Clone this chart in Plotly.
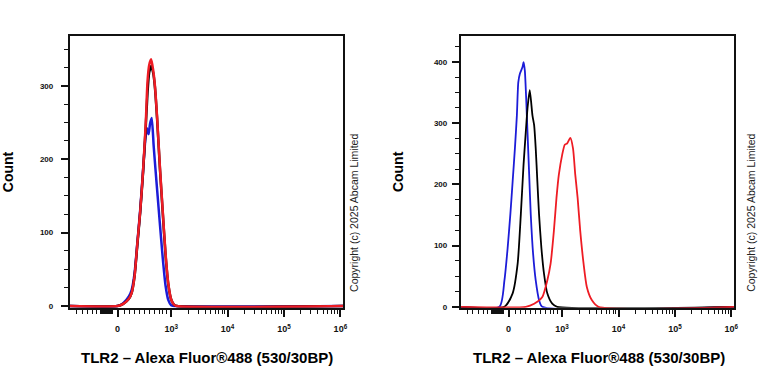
import numpy as np
import plotly.graph_objects as go

# ---- axis labels (biexponential display: 10^k drawn at k, 0 drawn at 2.05) ----
x_tick_vals = [2.05, 3, 4, 5, 6]
x_tick_text = ["0", "10<sup>3</sup>", "10<sup>4</sup>", "10<sup>5</sup>", "10<sup>6</sup>"]
x_title = "TLR2 – Alexa Fluor®488 (530/30BP)"
y_title = "Count"
copyright_text = "Copyright (c) 2025 Abcam Limited"

# ---- left panel histograms (display position, count) ----
left_blue_x = [1.2, 2.05, 2.15, 2.25, 2.30, 2.35, 2.40, 2.45, 2.50, 2.54, 2.57, 2.60, 2.625,
               2.655, 2.69, 2.72, 2.76, 2.80, 2.85, 2.90, 2.95, 3.00, 3.05, 6.05]
left_blue_y = [0, 0, 4, 13, 22, 44, 86, 130, 183, 225, 242, 234, 248,
               256, 218, 188, 150, 112, 66, 28, 8, 1, 0, 0]

left_black_x = [1.2, 2.05, 2.15, 2.25, 2.30, 2.35, 2.40, 2.45, 2.50, 2.55, 2.58, 2.61, 2.645,
                2.68, 2.71, 2.75, 2.80, 2.85, 2.90, 2.95, 3.00, 3.05, 3.10, 6.05]
left_black_y = [0, 0, 3, 10, 18, 40, 83, 127, 180, 245, 290, 318, 327,
                318, 300, 256, 188, 128, 70, 29, 9, 2, 0, 0]

left_red_x = [1.2, 2.05, 2.15, 2.25, 2.30, 2.35, 2.40, 2.45, 2.50, 2.55, 2.58, 2.61, 2.645,
              2.68, 2.71, 2.75, 2.80, 2.85, 2.90, 2.95, 3.00, 3.05, 3.10, 6.05]
left_red_y = [0, 0, 3, 10, 18, 40, 85, 128, 182, 250, 305, 328, 336,
              322, 302, 258, 190, 130, 72, 30, 9, 2, 0, 0]

# ---- right panel histograms ----
right_blue_x = [1.2, 1.889, 1.977, 2.035, 2.082, 2.123, 2.163, 2.198, 2.223, 2.251, 2.298,
                2.316, 2.339, 2.363, 2.386, 2.416, 2.444, 2.486, 2.532, 2.591, 2.649, 6.05]
right_blue_y = [0, 0, 43, 97, 151, 205, 259, 313, 367, 381, 392,
                400, 386, 340, 286, 216, 151, 86, 43, 11, 0, 0]

right_black_x = [1.2, 1.977, 2.123, 2.211, 2.268, 2.316, 2.356, 2.386, 2.426, 2.474, 2.504,
                 2.532, 2.561, 2.591, 2.632, 2.679, 2.737, 2.825, 2.912, 6.05]
right_black_y = [0, 0, 22, 70, 151, 232, 286, 324, 354, 313, 297,
                 259, 205, 151, 97, 54, 22, 5, 0, 0]

right_red_x = [1.2, 2.356, 2.504, 2.649, 2.737, 2.795, 2.854, 2.90, 2.942, 3.0, 3.047,
               3.088, 3.146, 3.193, 3.233, 3.275, 3.321, 3.381, 3.439, 3.526, 3.644, 6.05]
right_red_y = [0, 0, 5, 16, 43, 70, 124, 178, 216, 248, 265,
               267, 276, 259, 216, 178, 124, 70, 32, 11, 0, 0]

BLUE = "#1c1cd8"
BLACK = "#000000"
RED = "#ee1c24"

fig = go.Figure()
panels = [
    ("x", "y", 2.5, left_blue_x, left_blue_y, left_black_x, left_black_y, left_red_x, left_red_y),
    ("x2", "y2", 1.8, right_blue_x, right_blue_y, right_black_x, right_black_y, right_red_x, right_red_y),
]
for xa, ya, lw, bx, by, kx, ky, rx, ry in panels:
    for xs, ys, col in ((bx, by, BLUE), (kx, ky, BLACK), (rx, ry, RED)):
        fig.add_trace(go.Scatter(x=xs, y=ys, mode="lines", xaxis=xa, yaxis=ya,
                                 line=dict(color=col, width=lw, shape="spline", smoothing=0.6),
                                 showlegend=False, hoverinfo="skip"))

# minor tick positions on the display axis
neg_ticks = [1.33, 1.42, 1.51, 1.60, 1.68] + list(np.round(np.arange(1.74, 1.97, 0.012), 3))
low_ticks = [2.175, 2.26, 2.35, 2.44, 2.53, 2.61, 2.70, 2.79, 2.84, 2.91]
dec_ticks = [d + np.log10(k) for d in (3, 4, 5) for k in range(2, 10)]
x_minor = neg_ticks + low_ticks + dec_ticks

FONT = "Liberation Sans, Arial, sans-serif"
xtickfont = dict(family=FONT, size=9, color="#111111", weight="bold")
ytickfont = dict(family=FONT, size=8, color="#111111", weight="bold")

def xaxis(domain, anchor):
    return dict(domain=domain, anchor=anchor, range=[1.2, 6.05], showgrid=False, zeroline=False,
                showline=True, linecolor="#111111", linewidth=1.5, mirror=True,
                ticks="outside", ticklen=7, tickwidth=1.5, tickcolor="#111111",
                tickmode="array", tickvals=x_tick_vals, ticktext=x_tick_text,
                tickfont=xtickfont, ticklabelstandoff=5,
                minor=dict(ticks="outside", ticklen=4, tickwidth=1, tickcolor="#111111",
                           tickmode="array", tickvals=x_minor))

def yaxis(domain, anchor, rng, majors, standoff):
    return dict(domain=domain, anchor=anchor, range=rng, showgrid=False, zeroline=False,
                showline=True, linecolor="#111111", linewidth=1.5, mirror=True,
                ticks="outside", ticklen=7, tickwidth=1.5, tickcolor="#111111",
                tickmode="array", tickvals=majors, ticktext=[str(v) for v in majors],
                tickfont=ytickfont, ticklabelstandoff=standoff,
                minor=dict(ticks="outside", ticklen=4, tickwidth=1, tickcolor="#111111",
                           tickmode="linear", tick0=0, dtick=25))

W, H = 768, 384
ydom = [(H - 311) / H, (H - 36.5) / H]
fig.update_layout(
    width=W, height=H, autosize=False,
    margin=dict(l=0, r=0, t=0, b=0),
    paper_bgcolor="white", plot_bgcolor="white",
    xaxis=xaxis([70 / W, 345 / W], "y"),
    yaxis=yaxis(ydom, "x", [-2.3, 367.6], [0, 100, 200, 300], 6),
    xaxis2=xaxis([463 / W, 738 / W], "y2"),
    yaxis2=yaxis(ydom, "x2", [-1.6, 442.5], [0, 100, 200, 300, 400], 3),
)

ann = []
for cx_count, cx_title, cx_copy in ((8, 208, 356), (400, 602, 755)):
    ann.append(dict(text=y_title, x=cx_count / W, y=(H - 173) / H, xref="paper", yref="paper",
                    textangle=-90, showarrow=False, xanchor="center", yanchor="middle",
                    font=dict(family=FONT, size=14, color="#000000", weight="bold")))
    ann.append(dict(text=x_title, x=cx_title / W, y=(H - 361) / H, xref="paper", yref="paper",
                    showarrow=False, xanchor="center", yanchor="middle",
                    font=dict(family=FONT, size=15, color="#000000", weight="bold")))
    ann.append(dict(text=copyright_text, x=cx_copy / W, y=(H - 215) / H, xref="paper", yref="paper",
                    textangle=-90, showarrow=False, xanchor="center", yanchor="middle",
                    font=dict(family=FONT, size=10.5, color="#222222")))
fig.update_layout(annotations=ann)

fig.write_html("out.html", config={"displayModeBar": False},
               post_script="document.body.style.margin='0';")
